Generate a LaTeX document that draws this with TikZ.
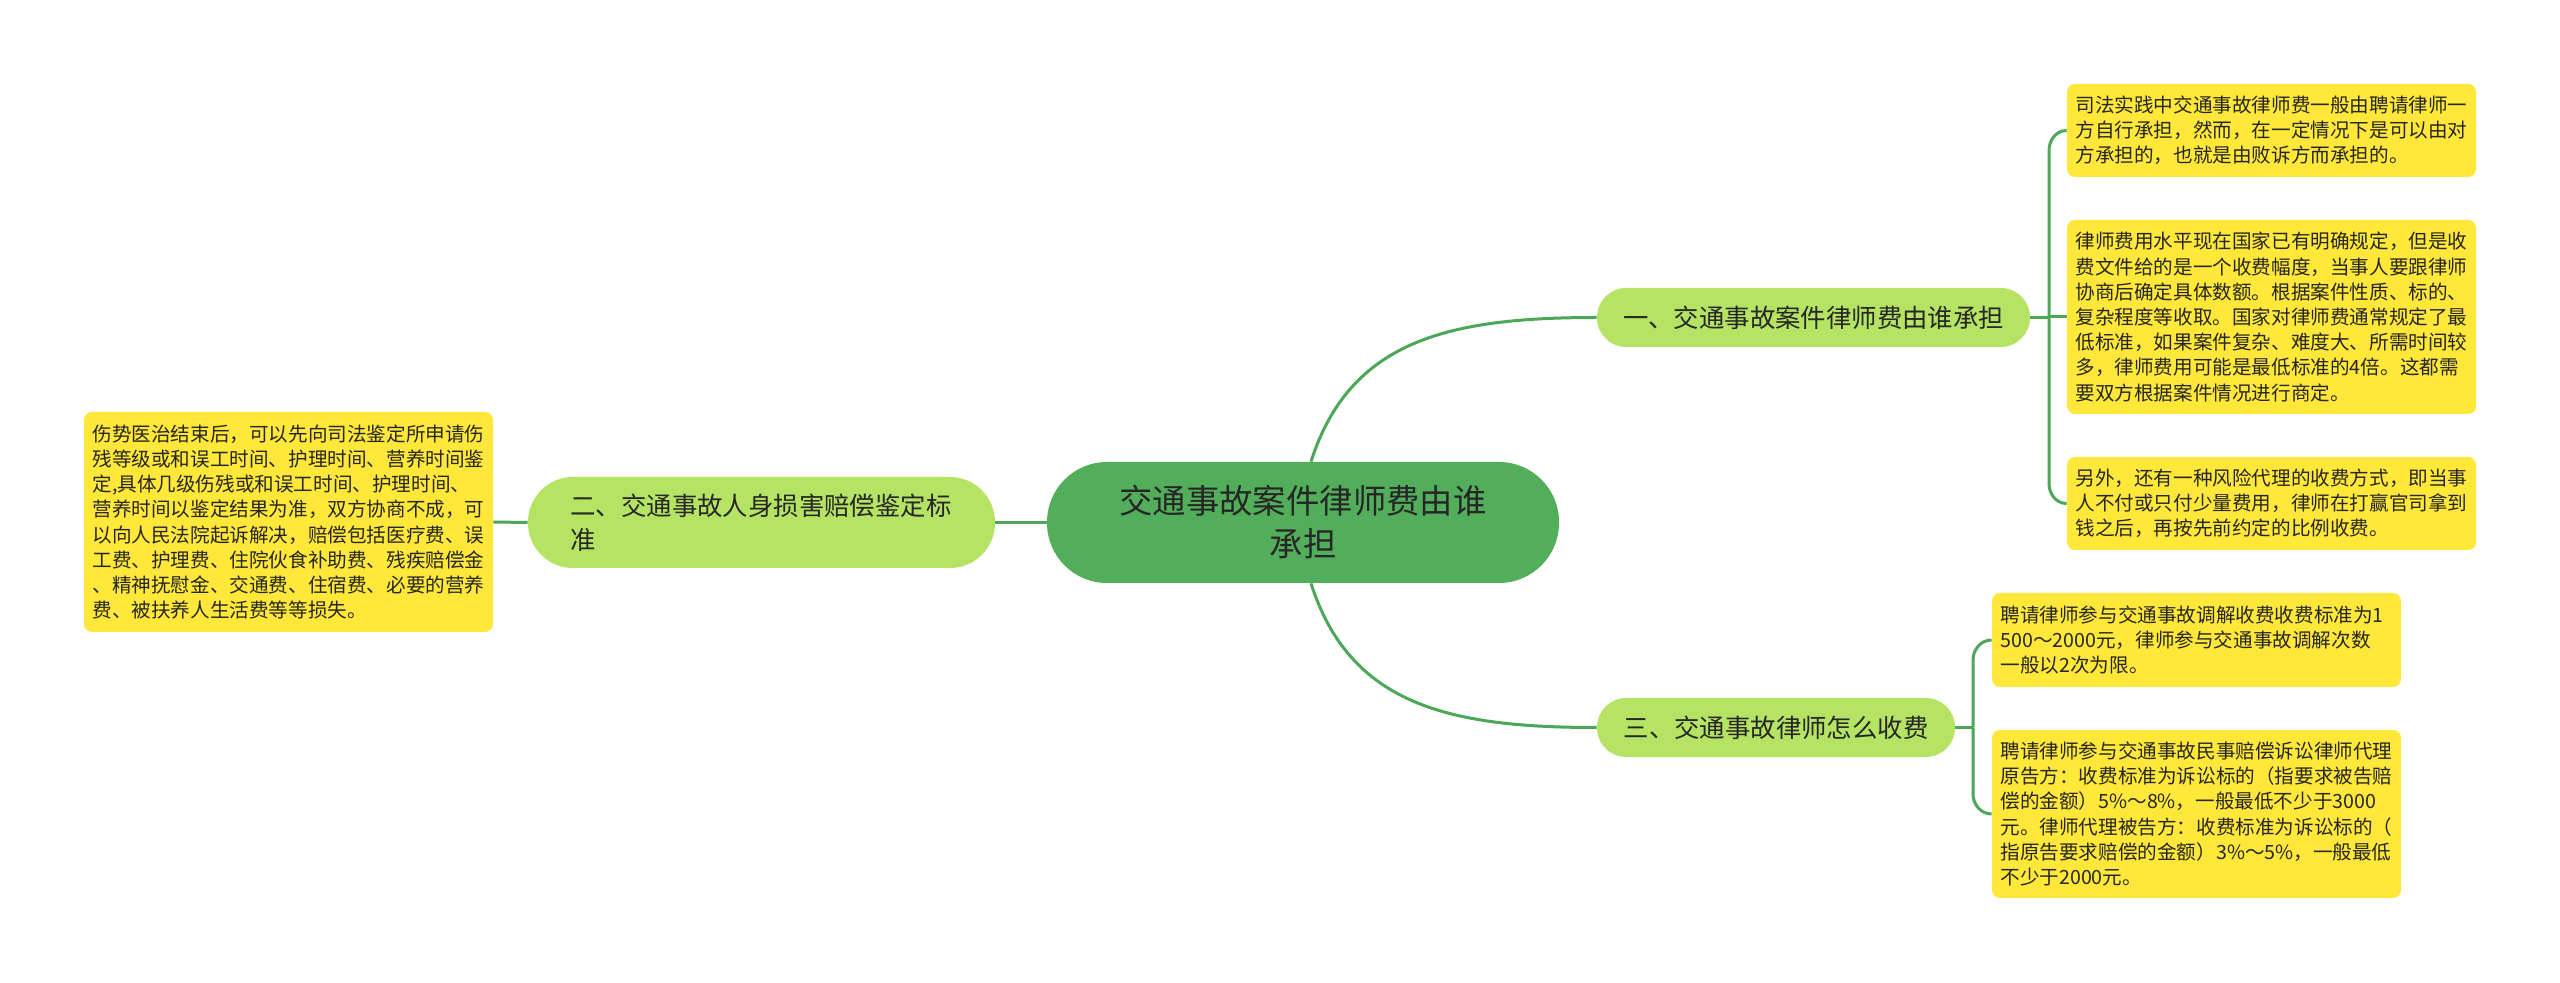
\documentclass[tikz,border=0pt]{standalone}
\usepackage{fontspec}
\newfontfamily\cjk{Noto Sans CJK SC}
\usetikzlibrary{calc}
\definecolor{cgreen}{RGB}{83,174,91}
\definecolor{bgreen}{RGB}{181,227,99}
\definecolor{leafy}{RGB}{255,232,58}
\definecolor{linkc}{RGB}{76,167,89}
\definecolor{txt}{RGB}{38,38,38}
\tikzset{
  base/.style={inner sep=0pt, text=txt},
  centerbox/.style={base, fill=cgreen, rounded corners=30pt, minimum width=256pt, minimum height=60.5pt, align=center, font=\cjk\fontsize{16.7pt}{21.5pt}\selectfont},
  branchbox/.style={base, fill=bgreen, rounded corners=14.6pt, minimum height=29.5pt, font=\cjk\fontsize{12.7pt}{17pt}\selectfont},
  leafbox/.style={base, fill=leafy, rounded corners=4pt, minimum width=204.5pt, text width=196pt, align=left, font=\cjk\fontsize{9.8pt}{12.6pt}\selectfont},
  link/.style={draw=linkc, line width=1.5pt}
}
\begin{document}
\begin{tikzpicture}[x=0.5pt,y=-0.5pt]
\useasboundingbox[fill=white] (0,0) rectangle (2560,983);

% central node
\node[centerbox] (center) at (1303,522.5) {交通事故案件律师费由谁\\承担};

% branches
\node[branchbox, minimum width=216.5pt] (b1) at (1813.5,317.5) {一、交通事故案件律师费由谁承担};
\node[branchbox, minimum width=179pt] (b3) at (1776,727.5) {三、交通事故律师怎么收费};
\node[branchbox, minimum width=233.5pt, minimum height=45.5pt, rounded corners=22.5pt, text width=191pt, align=left] (b2) at (761.5,522.5) {二、交通事故人身损害赔偿鉴定标\\准};

% leaves
\node[leafbox, minimum height=46.5pt] (l1a) at (2271.5,130.5) {司法实践中交通事故律师费一般由聘请律师一\\方自行承担，然而，在一定情况下是可以由对\\方承担的，也就是由败诉方而承担的。};
\node[leafbox, minimum height=97pt] (l1b) at (2271.5,317) {律师费用水平现在国家已有明确规定，但是收\\费文件给的是一个收费幅度，当事人要跟律师\\协商后确定具体数额。根据案件性质、标的、\\复杂程度等收取。国家对律师费通常规定了最\\低标准，如果案件复杂、难度大、所需时间较\\多，律师费用可能是最低标准的4倍。这都需\\要双方根据案件情况进行商定。};
\node[leafbox, minimum height=46.5pt] (l1c) at (2271.5,503.5) {另外，还有一种风险代理的收费方式，即当事\\人不付或只付少量费用，律师在打赢官司拿到\\钱之后，再按先前约定的比例收费。};
\node[leafbox, minimum height=47pt] (l3a) at (2196.5,640) {聘请律师参与交通事故调解收费收费标准为1\\500～2000元，律师参与交通事故调解次数\\一般以2次为限。};
\node[leafbox, minimum height=84pt] (l3b) at (2196.5,814) {聘请律师参与交通事故民事赔偿诉讼律师代理\\原告方：收费标准为诉讼标的（指要求被告赔\\偿的金额）5\%～8\%，一般最低不少于3000\\元。律师代理被告方：收费标准为诉讼标的（\\指原告要求赔偿的金额）3\%～5\%，一般最低\\不少于2000元。};
\node[leafbox, minimum height=110pt] (l2) at (288.5,522) {伤势医治结束后，可以先向司法鉴定所申请伤\\残等级或和误工时间、护理时间、营养时间鉴\\定,具体几级伤残或和误工时间、护理时间、\\营养时间以鉴定结果为准，双方协商不成，可\\以向人民法院起诉解决，赔偿包括医疗费、误\\工费、护理费、住院伙食补助费、残疾赔偿金\\、精神抚慰金、交通费、住宿费、必要的营养\\费、被扶养人生活费等等损失。};

% trunk points
\coordinate (t1) at (2049,317.5);
\coordinate (t3) at (1973,727.5);

% connectors
\draw[link] ([xshift=4pt]center.north) .. controls +(19.5pt,61pt) and +(-73.5pt,0pt) .. (b1.west);
\draw[link] ([xshift=4pt]center.south) .. controls +(19.5pt,-61pt) and +(-73.5pt,0pt) .. (b3.west);
\draw[link] (center.west) -- (b2.east);
\draw[link] (b2.west) -- (l2.east);

\draw[link] (b1.east) -- (t1);
\draw[link] (t1) -- ([yshift=-10pt]t1 |- l1a.west) to[out=90,in=180] (l1a.west);
\draw[link] (t1) -- (t1 |- l1b.west) -- (l1b.west);
\draw[link] (t1) -- ([yshift=10pt]t1 |- l1c.west) to[out=-90,in=180] (l1c.west);

\draw[link] (b3.east) -- (t3);
\draw[link] (t3) -- ([yshift=-10pt]t3 |- l3a.west) to[out=90,in=180] (l3a.west);
\draw[link] (t3) -- ([yshift=10pt]t3 |- l3b.west) to[out=-90,in=180] (l3b.west);
\end{tikzpicture}
\end{document}
